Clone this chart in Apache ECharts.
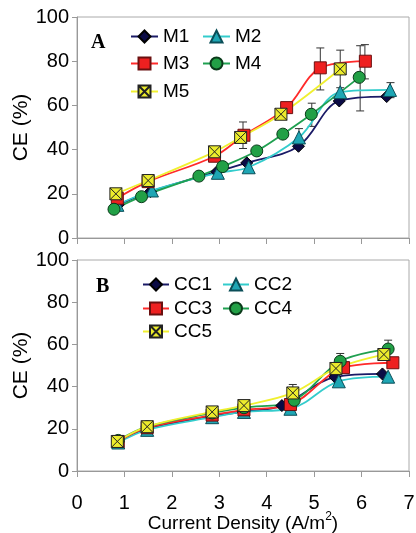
<!DOCTYPE html>
<html>
<head>
    <meta charset="UTF-8">
    <title>CE vs Current Density</title>
    <style>
        * { margin: 0; padding: 0; }
        #chart { width: 416px; height: 533px; background: #fff; }
    </style>
</head>
<body>
    <div id="chart"></div>
    <script src="https://cdn.jsdelivr.net/npm/echarts@6/dist/echarts.min.js"></script>
    <script>
        // panel A: [current density, CE]
        var M1 = [[0.87, 15], [1.55, 21], [2.95, 30], [3.58, 34], [4.67, 41.5], [5.53, 62], [6.53, 64]];
        var M2 = [[0.85, 15], [1.58, 21.5], [2.97, 29.5], [3.62, 32], [4.68, 45.5], [5.55, 66], [6.6, 67]];
        var M3 = [[0.85, 18], [1.5, 25.5], [2.9, 37], [3.52, 46.5], [4.42, 59], [5.13, 77], [6.08, 80]];
        var M4 = [[0.78, 13], [1.36, 18.7], [2.57, 28], [3.07, 32.3], [3.79, 39.4], [4.34, 47], [4.94, 56], [5.95, 72.7]];
        var M5 = [[0.82, 20], [1.5, 26], [2.9, 39], [3.45, 45.5], [4.3, 56], [5.55, 76.5]];
        // error bars A: [x, low, high]
        var errA = [[3.5, 40.5, 52.5], [4.68, 41.5, 49.5], [4.95, 50.5, 61], [5.13, 67, 86], [5.55, 68, 85],
                    [5.97, 57.5, 87], [6.07, 72, 87.5], [6.61, 63.5, 70.3]];

        // panel B
        var CC1 = [[0.87, 14], [1.48, 20], [2.85, 26], [3.5, 28], [4.32, 31], [5.44, 44.5], [6.44, 46]];
        var CC2 = [[0.87, 13.5], [1.48, 19.5], [2.85, 25.5], [3.52, 28], [4.5, 29.5], [5.52, 42.5], [6.56, 44.7]];
        var CC3 = [[0.87, 14], [1.48, 20.5], [2.85, 26.5], [3.52, 29], [4.5, 31.5], [5.62, 49], [6.66, 51.3]];
        var CC4 = [[0.87, 14.5], [1.48, 21], [2.85, 27.5], [3.52, 30], [4.58, 33.5], [5.55, 52], [6.56, 57.8]];
        var CC5 = [[0.85, 14], [1.48, 21], [2.85, 28], [3.52, 31], [4.55, 37], [5.46, 48.6], [6.47, 55.2]];
        var errB = [[0.87, 11.5, 16.5], [1.48, 18.5, 23], [4.55, 33, 41], [5.55, 48, 55.7], [6.56, 53.5, 62]];

        var yTicks = [0, 20, 40, 60, 80, 100];
        var xTicks = [0, 1, 2, 3, 4, 5, 6, 7];

        var font = 'Liberation Sans, Arial, sans-serif';
        var xSymbol = 'path://M0,0H10V10H0Z M0,0L10,10 M10,0L0,10';

        // marker + line styles for the 5 series, same for both panels
        var styles = [
            { symbol: 'diamond', size: 12, line: '#1a1a66', fill: '#0b0b45', border: '#000' },
            { symbol: 'triangle', size: 13, line: '#33cccc', fill: '#1ea6b4', border: '#0b4e58' },
            { symbol: 'rect', size: 12, line: '#ff2a2a', fill: '#ee2020', border: '#6a1010' },
            { symbol: 'circle', size: 12, line: '#1fa050', fill: '#22a046', border: '#0a3a1a' },
            { symbol: xSymbol, size: 12, line: '#f0f030', fill: '#ecec2c', border: '#222' }
        ];

        function lineSeries(name, data, st, idx) {
            return {
                name: name, type: 'line', data: data, smooth: 0.35,
                xAxisIndex: idx, yAxisIndex: idx,
                symbol: st.symbol, symbolSize: st.size,
                lineStyle: { color: st.line, width: 1.8 },
                itemStyle: { color: st.fill, borderColor: st.border, borderWidth: 1 },
                z: 3
            };
        }

        function errSeries(data, idx) {
            return {
                type: 'custom', data: data, xAxisIndex: idx, yAxisIndex: idx, z: 2,
                silent: true,
                renderItem: function (params, api) {
                    var x = api.value(0);
                    var top = api.coord([x, api.value(2)]);
                    var bot = api.coord([x, api.value(1)]);
                    var st = { stroke: '#333', lineWidth: 1 };
                    return {
                        type: 'group',
                        children: [
                            { type: 'line', shape: { x1: top[0], y1: top[1], x2: bot[0], y2: bot[1] }, style: st },
                            { type: 'line', shape: { x1: top[0] - 4, y1: top[1], x2: top[0] + 4, y2: top[1] }, style: st },
                            { type: 'line', shape: { x1: bot[0] - 4, y1: bot[1], x2: bot[0] + 4, y2: bot[1] }, style: st }
                        ]
                    };
                }
            };
        }

        function legendAt(name, left, top, w) {
            return {
                data: [name], left: left, top: top, padding: 0,
                itemWidth: w, itemHeight: 15, itemGap: 0,
                textStyle: { fontFamily: font, fontSize: 19, color: '#000' }
            };
        }

        function xAxis(idx, showLabels) {
            return {
                type: 'value', gridIndex: idx, min: 0, max: 7, interval: 1,
                axisLine: { lineStyle: { color: '#999' } },
                axisTick: { show: true, length: 6, lineStyle: { color: '#999' } },
                axisLabel: { show: showLabels, color: '#000', fontFamily: font, fontSize: 20, margin: 22,
                    formatter: function (v) { return xTicks.indexOf(v) > -1 ? String(v) : ''; } },
                splitLine: { show: false },
                name: showLabels ? '{a|Current Density (A/m}{s|2}{a|)}' : '',
                nameLocation: 'middle', nameGap: 40, nameMoveOverlap: false,
                nameTextStyle: { rich: {
                    a: { fontFamily: font, fontSize: 19, color: '#000', verticalAlign: 'bottom' },
                    s: { fontFamily: font, fontSize: 12, color: '#000', verticalAlign: 'top', padding: [0, 0, 10, 0] }
                } }
            };
        }

        function yAxis(idx) {
            return {
                type: 'value', gridIndex: idx, min: 0, max: 100, interval: 20,
                axisLine: { show: true, lineStyle: { color: '#999' } },
                axisTick: { show: true, length: 5, lineStyle: { color: '#999' } },
                axisLabel: { color: '#000', fontFamily: font, fontSize: 20, margin: 8,
                    formatter: function (v) { return yTicks.indexOf(v) > -1 ? String(v) : ''; } },
                splitLine: { show: false },
                name: 'CE (%)', nameLocation: 'middle', nameGap: 45, nameMoveOverlap: false,
                nameTextStyle: { fontFamily: font, fontSize: 21, color: '#000' }
            };
        }

        var namesA = ['M1', 'M2', 'M3', 'M4', 'M5'];
        var namesB = ['CC1', 'CC2', 'CC3', 'CC4', 'CC5'];
        var dataA = [M1, M2, M3, M4, M5];
        var dataB = [CC1, CC2, CC3, CC4, CC5];

        var series = [errSeries(errA, 0), errSeries(errB, 1)];
        namesA.forEach(function (n, i) { series.push(lineSeries(n, dataA[i], styles[i], 0)); });
        namesB.forEach(function (n, i) { series.push(lineSeries(n, dataB[i], styles[i], 1)); });

        var option = {
            animation: false,
            backgroundColor: '#fff',
            title: [
                { text: 'A', left: 91, top: 33, padding: 0,
                  textStyle: { fontFamily: 'Liberation Serif, Times New Roman, serif', fontWeight: 'bold', fontSize: 20, color: '#000' } },
                { text: 'B', left: 96, top: 277, padding: 0,
                  textStyle: { fontFamily: 'Liberation Serif, Times New Roman, serif', fontWeight: 'bold', fontSize: 20, color: '#000' } }
            ],
            legend: [
                legendAt('M1', 130, 27, 27), legendAt('M2', 202, 27, 27),
                legendAt('M3', 130, 54, 27), legendAt('M4', 202, 54, 27),
                legendAt('M5', 130, 82, 27),
                legendAt('CC1', 142, 275, 26), legendAt('CC2', 222, 275, 26),
                legendAt('CC3', 142, 299, 26), legendAt('CC4', 222, 299, 26),
                legendAt('CC5', 142, 322, 26)
            ],
            grid: [
                { left: 77, top: 17, width: 332, height: 221, show: true, borderColor: '#aaa', borderWidth: 1, outerBoundsMode: 'none' },
                { left: 77, top: 260, width: 332, height: 211, show: true, borderColor: '#aaa', borderWidth: 1, outerBoundsMode: 'none' }
            ],
            xAxis: [xAxis(0, false), xAxis(1, true)],
            yAxis: [yAxis(0), yAxis(1)],
            series: series
        };

        var myChart = echarts.init(document.getElementById('chart'));
        myChart.setOption(option);
    </script>
</body>
</html>
